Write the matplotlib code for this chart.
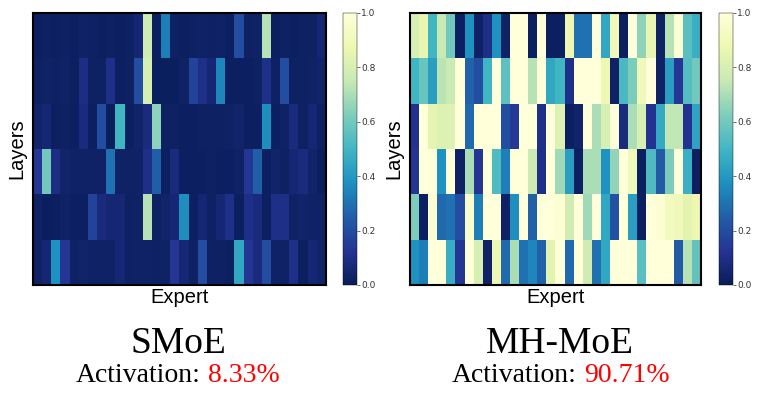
import numpy as np
import matplotlib
matplotlib.use("Agg")
import matplotlib.pyplot as plt

# Valores de activación por capa (filas) y experto (columnas)
smoe = [
    [0.02, 0.025, 0.02, 0.025, 0.02, 0.03, 0.025, 0.02, 0.025, 0.02, 0.025, 0.06, 0.78, 0.02, 0.33, 0.025,
     0.02, 0.025, 0.03, 0.025, 0.03, 0.02, 0.20, 0.025, 0.03, 0.72, 0.02, 0.025, 0.02, 0.025, 0.025, 0.06],
    [0.025, 0.03, 0.025, 0.03, 0.02, 0.09, 0.025, 0.025, 0.10, 0.02, 0.025, 0.20, 0.80, 0.015, 0.015, 0.015,
     0.03, 0.17, 0.10, 0.06, 0.35, 0.02, 0.02, 0.02, 0.025, 0.10, 0.025, 0.20, 0.025, 0.025, 0.03, 0.04],
    [0.04, 0.06, 0.02, 0.025, 0.02, 0.08, 0.02, 0.20, 0.015, 0.50, 0.02, 0.04, 0.08, 0.65, 0.025, 0.025,
     0.02, 0.02, 0.025, 0.025, 0.025, 0.03, 0.04, 0.02, 0.02, 0.37, 0.02, 0.03, 0.08, 0.025, 0.06, 0.025],
    [0.13, 0.60, 0.09, 0.04, 0.03, 0.03, 0.03, 0.035, 0.30, 0.03, 0.03, 0.03, 0.10, 0.25, 0.02, 0.08,
     0.02, 0.02, 0.02, 0.025, 0.02, 0.02, 0.03, 0.13, 0.25, 0.02, 0.04, 0.025, 0.06, 0.08, 0.04, 0.015],
    [0.03, 0.015, 0.02, 0.03, 0.02, 0.02, 0.17, 0.08, 0.06, 0.06, 0.025, 0.03, 0.72, 0.025, 0.04, 0.06,
     0.37, 0.02, 0.06, 0.025, 0.06, 0.10, 0.02, 0.10, 0.08, 0.02, 0.10, 0.10, 0.03, 0.04, 0.03, 0.03],
    [0.03, 0.06, 0.38, 0.13, 0.03, 0.04, 0.035, 0.03, 0.03, 0.06, 0.025, 0.03, 0.03, 0.025, 0.03, 0.13,
     0.06, 0.025, 0.20, 0.025, 0.025, 0.02, 0.45, 0.13, 0.08, 0.20, 0.03, 0.03, 0.10, 0.02, 0.06, 0.04],
]

mhmoe = [
    [0.80, 0.86, 0.50, 0.76, 0.60, 0.02, 0.38, 0.03, 0.10, 0.38, 0.03, 1.00, 1.00, 0.02, 1.00, 0.02,
     0.02, 0.88, 0.30, 0.30, 1.00, 0.45, 0.90, 0.02, 1.00, 0.65, 0.86, 0.03, 0.72, 0.98, 0.55, 0.48],
    [0.50, 0.58, 0.42, 0.73, 0.76, 1.00, 0.26, 0.20, 0.50, 1.00, 0.56, 1.00, 1.00, 0.72, 1.00, 0.45,
     0.50, 0.10, 1.00, 1.00, 1.00, 0.88, 0.03, 0.52, 0.62, 0.90, 1.00, 0.03, 0.42, 0.13, 0.54, 0.60],
    [0.12, 1.00, 0.85, 0.82, 0.82, 1.00, 0.28, 1.00, 1.00, 1.00, 0.20, 0.14, 1.00, 1.00, 0.10, 1.00,
     0.82, 0.02, 0.04, 1.00, 0.70, 0.80, 1.00, 0.08, 0.70, 0.80, 0.12, 0.46, 0.74, 0.74, 0.12, 0.44],
    [0.13, 1.00, 1.00, 0.38, 1.00, 0.03, 0.70, 0.13, 1.00, 0.53, 0.33, 1.00, 1.00, 0.77, 0.10, 1.00,
     0.68, 0.42, 0.02, 0.70, 0.70, 0.38, 0.66, 1.00, 0.90, 0.02, 0.53, 0.24, 0.62, 1.00, 0.48, 0.02],
    [0.62, 0.02, 0.97, 0.28, 0.30, 0.20, 0.96, 0.33, 1.00, 1.00, 0.03, 0.37, 1.00, 0.26, 1.00, 1.00,
     0.98, 0.78, 1.00, 0.68, 1.00, 0.45, 0.22, 1.00, 0.42, 0.02, 1.00, 0.98, 0.92, 0.90, 0.84, 0.88],
    [0.38, 0.33, 1.00, 1.00, 0.47, 0.13, 1.00, 0.80, 0.03, 0.88, 0.28, 0.70, 0.30, 0.35, 0.26, 0.84,
     1.00, 0.28, 1.00, 0.78, 0.30, 0.45, 1.00, 1.00, 1.00, 0.55, 1.00, 1.00, 1.00, 0.24, 0.72, 0.57],
]

modelos = ['SMoE', 'MH-MoE']
activaciones = ['8.33%', '90.71%']
cbar_ticks = [0.0, 0.2, 0.4, 0.6, 0.8, 1.0]

W, H = 766, 397
fig = plt.figure(figsize=(W / 100, H / 100), dpi=100)

# posiciones en pixeles: (x0 mapa, x1 mapa, x0 barra, centro texto, x del porcentaje)
paneles = [
    dict(datos=smoe, x0=33, x1=326, cx0=343, centro=178, xsplit=208),
    dict(datos=mhmoe, x0=410, x1=701, cx0=719, centro=560, xsplit=584),
]
y_top, y_bot = 13, 285

for i, p in enumerate(paneles):
    ax = fig.add_axes([p['x0'] / W, 1 - y_bot / H, (p['x1'] - p['x0']) / W, (y_bot - y_top) / H])
    im = ax.imshow(np.array(p['datos']), cmap='YlGnBu_r', vmin=0, vmax=1,
                   aspect='auto', interpolation='nearest')
    ax.set_xticks([])
    ax.set_yticks([])
    for s in ax.spines.values():
        s.set_linewidth(1.5)
        s.set_color('black')
    ax.set_xlabel('Expert', fontsize=14.5, family='Liberation Sans', labelpad=2)
    ax.set_ylabel('Layers', fontsize=14.5, family='Liberation Sans', labelpad=5)

    cax = fig.add_axes([p['cx0'] / W, 1 - y_bot / H, 14 / W, (y_bot - y_top) / H])
    cb = fig.colorbar(im, cax=cax, ticks=cbar_ticks)
    cb.outline.set_linewidth(0.3)
    cb.ax.tick_params(labelsize=6.5, length=2, width=0.5, pad=1, colors='#333333')
    cb.ax.set_yticklabels([f'{t:.1f}' for t in cbar_ticks])

    fig.text(p['centro'] / W, 1 - 352.7 / H, modelos[i], fontsize=27,
             family='Liberation Serif', ha='center', va='baseline')
    fig.text((p['xsplit'] - 7) / W, 1 - 381.7 / H, 'Activation:', fontsize=20,
             family='Liberation Serif', ha='right', va='baseline')
    fig.text(p['xsplit'] / W, 1 - 381.7 / H, activaciones[i], fontsize=20,
             family='Liberation Serif', ha='left', va='baseline', color='red')

plt.savefig('out.png', dpi=100)
